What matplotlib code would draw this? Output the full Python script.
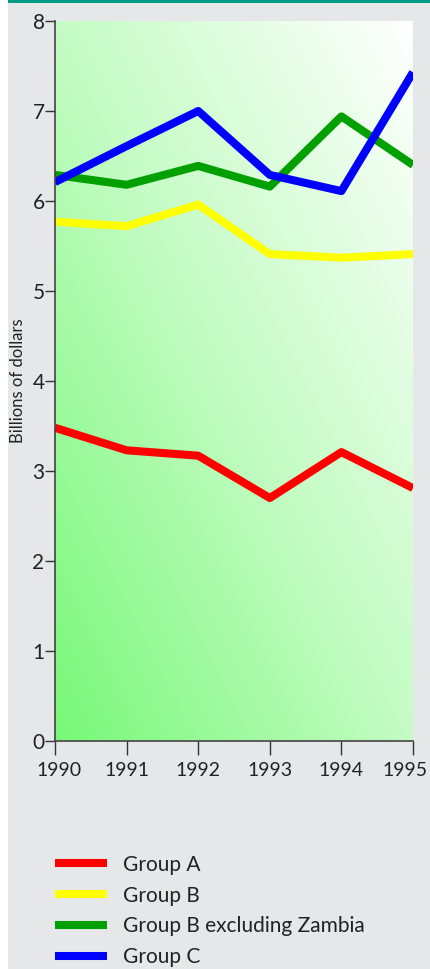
import matplotlib.pyplot as plt
import numpy as np
from matplotlib.colors import LinearSegmentedColormap
from matplotlib.patches import Rectangle
from matplotlib.transforms import ScaledTranslation

years = [1990, 1991, 1992, 1993, 1994, 1995]
group_a = [3.48, 3.23, 3.17, 2.70, 3.21, 2.81]
group_b = [5.77, 5.72, 5.96, 5.41, 5.37, 5.41]
group_b_ex_zambia = [6.29, 6.18, 6.39, 6.16, 6.94, 6.40]
group_c = [6.21, 6.61, 7.00, 6.29, 6.11, 7.43]

plt.rcParams['font.family'] = ['Lato', 'DejaVu Sans']

fig = plt.figure(figsize=(4.31, 9.69), dpi=100)
fig.patch.set_facecolor('#e6e7e9')
fig.patches.append(Rectangle((0, 0), 8 / 431, 1, transform=fig.transFigure,
                             facecolor='white', edgecolor='none', zorder=0))
fig.patches.append(Rectangle((8 / 431, 1 - 3 / 969), 1, 3 / 969, transform=fig.transFigure,
                             facecolor='#009b84', edgecolor='none', zorder=1))

ax = fig.add_axes([55 / 431, 228 / 969, 358 / 431, 720 / 969])

# diagonal gradient background
u, v = np.meshgrid(np.linspace(0, 1, 200), np.linspace(0, 1, 200))
t = (u + v) / 2
cmap = LinearSegmentedColormap.from_list('g', ['#78f878', '#c4fcc4', '#ffffff'])
ax.imshow(t, cmap=cmap, origin='lower', extent=[0, 1, 0, 1], transform=ax.transAxes,
          aspect='auto', zorder=0)

lw = 5.8
ax.plot(years, group_a, color='#ff0000', lw=lw, label='Group A', solid_capstyle='butt')
ax.plot(years, group_b, color='#ffff00', lw=lw, label='Group B', solid_capstyle='butt')
ax.plot(years, group_b_ex_zambia, color='#00a000', lw=lw, label='Group B excluding Zambia',
        solid_capstyle='butt')
ax.plot(years, group_c, color='#0000ff', lw=lw, label='Group C', solid_capstyle='butt')

ax.set_xlim(1990, 1995)
ax.set_ylim(0, 8)
ax.set_xticks(years)
ax.set_yticks(range(0, 9))
ax.tick_params(axis='y', length=7.5, width=1, color='#333333', labelsize=15, pad=0,
               labelcolor='#222222')
ax.tick_params(axis='x', length=10, width=1, color='#333333', labelsize=14, pad=5,
               labelcolor='#222222')
for s in ['top', 'right']:
    ax.spines[s].set_visible(False)
for s in ['left', 'bottom']:
    ax.spines[s].set_color('#444444')
    ax.spines[s].set_linewidth(1.2)
ax.set_ylabel('Billions of dollars', fontsize=12, color='#222222', labelpad=5)

# keep the last year label inside the figure, as in the original
fig.canvas.draw()
xlabels = ax.get_xticklabels()
xlabels[0].set_transform(xlabels[0].get_transform() + ScaledTranslation(4 / 100, 0, fig.dpi_scale_trans))
xlabels[-1].set_transform(xlabels[-1].get_transform() + ScaledTranslation(-8 / 100, 0, fig.dpi_scale_trans))

handles, labels = ax.get_legend_handles_labels()
fig.legend(handles, labels, loc='upper left', bbox_to_anchor=(36 / 431, 1 - 836 / 969),
           frameon=False, fontsize=15, handlelength=2.5, handletextpad=0.77,
           labelspacing=0.52, labelcolor='#222222')

fig.savefig('out.png', dpi=100, facecolor=fig.get_facecolor())
